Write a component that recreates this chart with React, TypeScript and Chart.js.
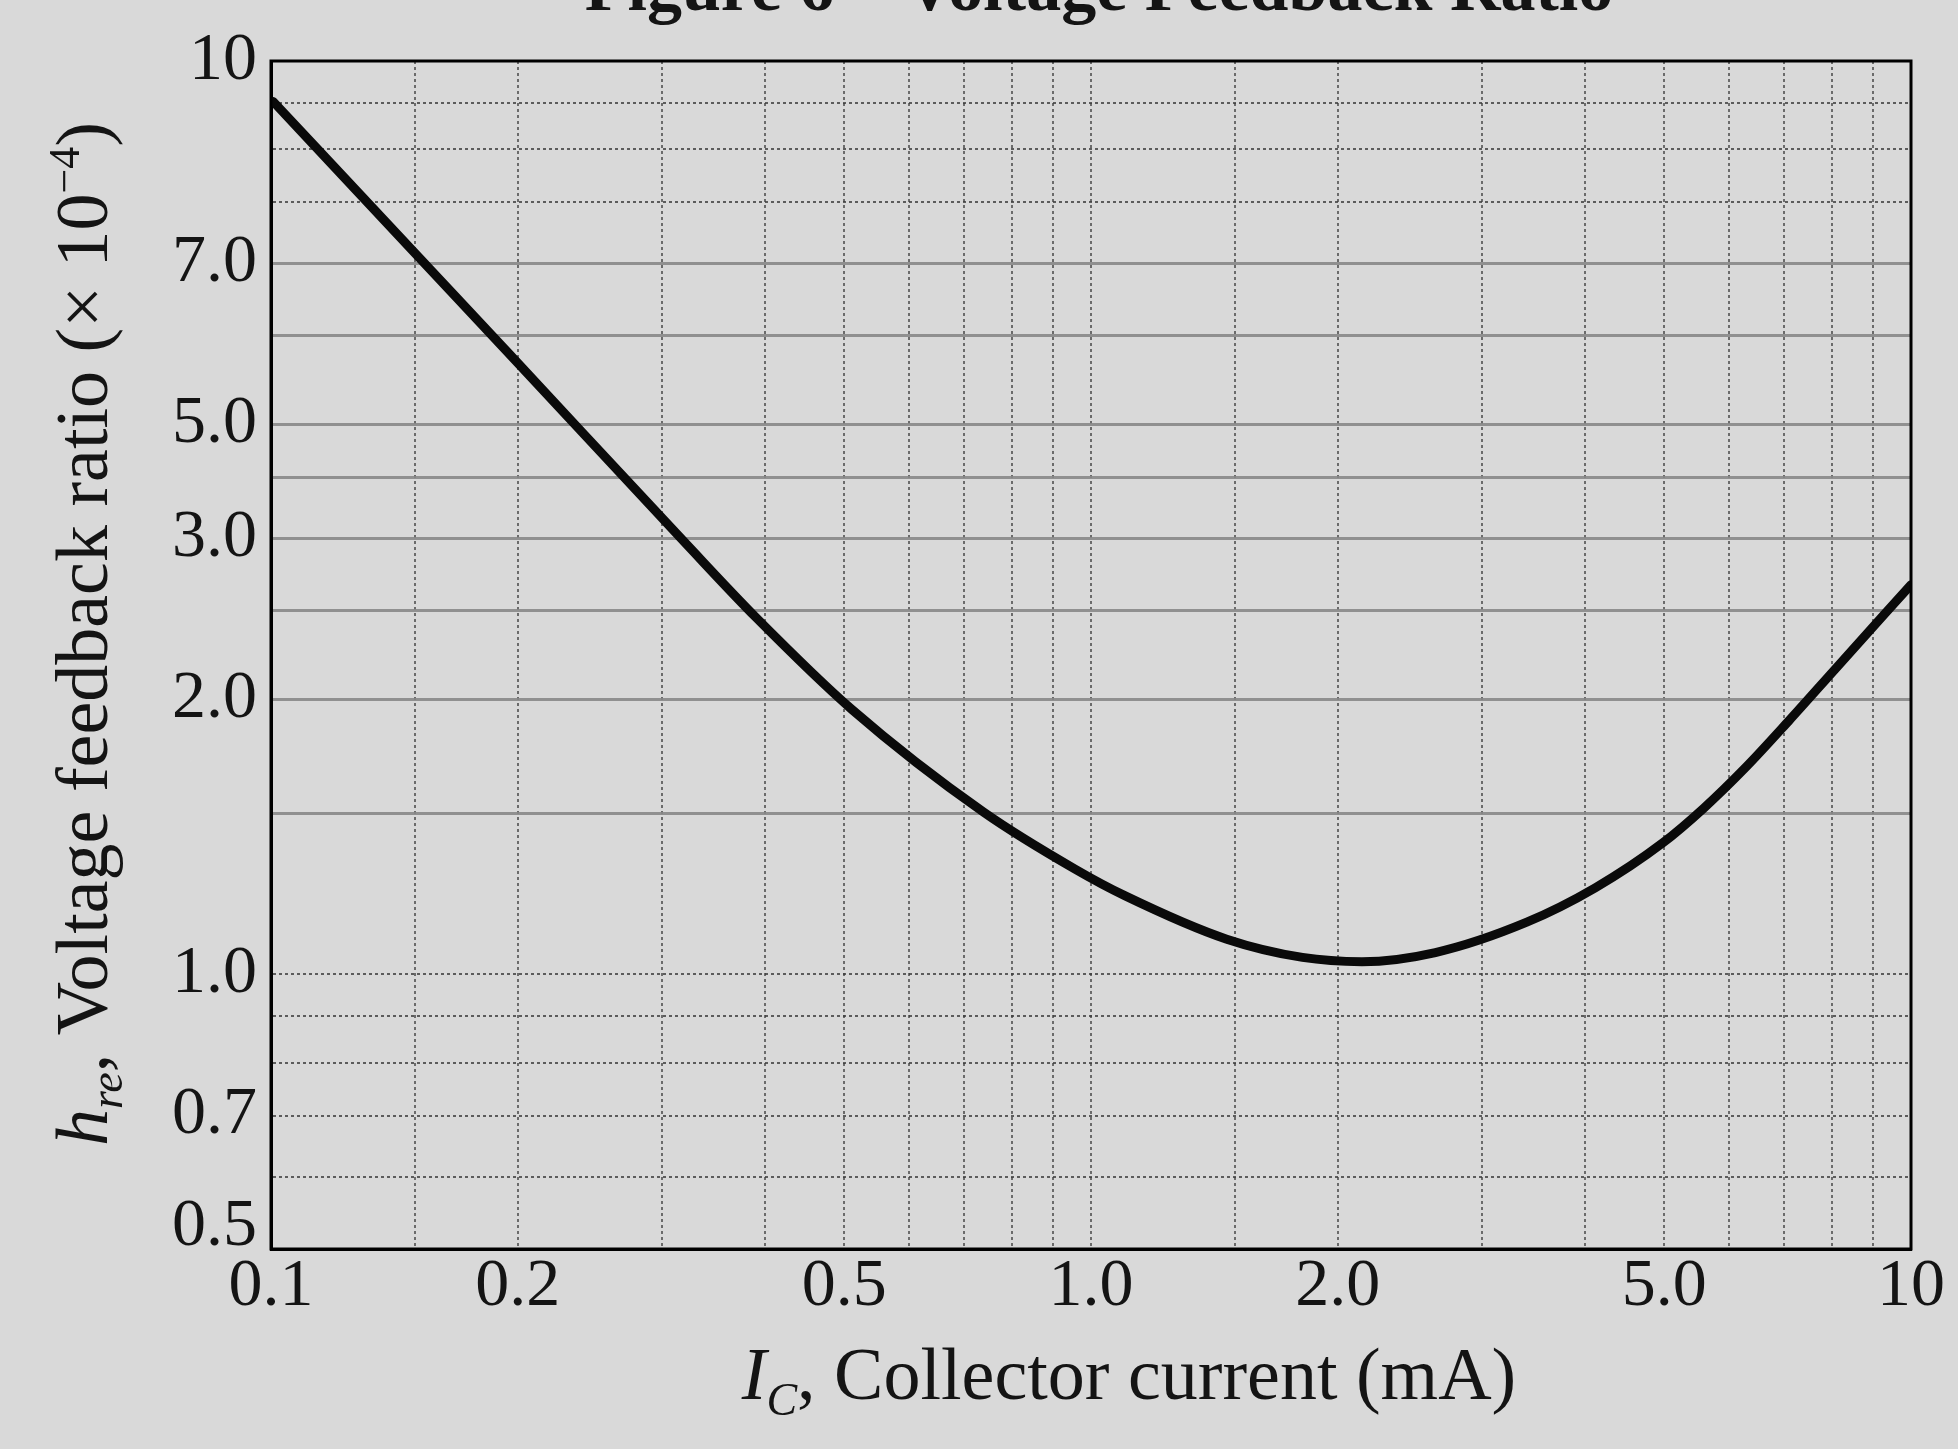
import { useEffect, useRef } from 'react';
import { Chart, registerables } from 'chart.js';

Chart.register(...registerables);

// ---- data ----
const currentMA = [0.1006, 0.1506, 0.1995, 0.3196, 0.39, 0.511, 0.74, 0.955, 1.101, 1.464, 1.811, 2.14, 2.63, 3.4, 4.12, 4.98, 5.59, 6.29, 7.1, 8.08, 10];
const hreValues = [9.03, 6.13, 4.68, 2.97, 2.46, 1.949, 1.504, 1.304, 1.218, 1.092, 1.043, 1.032, 1.056, 1.14, 1.243, 1.392, 1.52, 1.685, 1.895, 2.157, 2.67];

const xGridValues = [0.1, 0.15, 0.2, 0.3, 0.4, 0.5, 0.6, 0.7, 0.8, 0.9, 1, 1.5, 2, 3, 4, 5, 6, 7, 8, 9, 10];
const xLabelValues = [0.1, 0.2, 0.5, 1, 2, 5, 10];
const xLabelTexts = ['0.1', '0.2', '0.5', '1.0', '2.0', '5.0', '10'];

const yGridValues = [0.5, 0.6, 0.7, 0.8, 0.9, 1, 1.5, 2, 2.5, 3, 3.5, 4, 5, 6, 7, 8, 9, 10];
const yLabelValues = [10, 6, 4, 3, 2, 1, 0.7, 0.5];
const yLabelTexts = ['10', '7.0', '5.0', '3.0', '2.0', '1.0', '0.7', '0.5'];

const titleText = 'Figure 6 \u2013 Voltage Feedback Ratio';

const SERIF = '"Liberation Serif", "DejaVu Serif", serif';
const INK = '#141414';

const findLabel = (vals: number[], texts: string[], v: number) => {
  const i = vals.findIndex((a) => Math.abs(a - v) < 1e-9);
  return i >= 0 ? texts[i] : '';
};

type Seg = { text: string; font: string; dy?: number };

function drawRich(ctx: CanvasRenderingContext2D, segs: Seg[], x: number, y: number) {
  let total = 0;
  for (const s of segs) {
    ctx.font = s.font;
    total += ctx.measureText(s.text).width;
  }
  let cx = x - total / 2;
  for (const s of segs) {
    ctx.font = s.font;
    ctx.fillText(s.text, cx, y + (s.dy || 0));
    cx += ctx.measureText(s.text).width;
  }
}

const decorPlugin = {
  id: 'decor',
  afterDraw(chart: any) {
    const { ctx, chartArea } = chart;
    const { left, right, top, bottom } = chartArea;
    ctx.save();
    // frame
    ctx.strokeStyle = '#000';
    ctx.lineWidth = 3;
    ctx.strokeRect(left, top, right - left, bottom - top);

    ctx.fillStyle = INK;
    ctx.textBaseline = 'alphabetic';
    ctx.textAlign = 'left';

    // title (cut off at top of page)
    ctx.font = `bold 70px ${SERIF}`;
    const tw = ctx.measureText(titleText).width;
    ctx.fillText(titleText, 1099 - tw / 2, 10);

    // x axis title
    const fs = 74;
    drawRich(
      ctx,
      [
        { text: 'I', font: `italic ${fs}px ${SERIF}` },
        { text: 'C', font: `italic ${Math.round(fs * 0.62)}px ${SERIF}`, dy: fs * 0.22 },
        { text: ', Collector current (mA)', font: `${fs}px ${SERIF}` },
      ],
      (left + right) / 2 + 38,
      bottom + 150
    );

    // y axis title (rotated)
    ctx.translate(107, (top + bottom) / 2 - 21);
    ctx.rotate(-Math.PI / 2);
    drawRich(
      ctx,
      [
        { text: 'h', font: `italic ${fs}px ${SERIF}` },
        { text: 're', font: `italic ${Math.round(fs * 0.62)}px ${SERIF}`, dy: fs * 0.2 },
        { text: ', Voltage feedback ratio (\u00d7 10', font: `${fs}px ${SERIF}` },
        { text: '\u22124', font: `${Math.round(fs * 0.6)}px ${SERIF}`, dy: -fs * 0.38 },
        { text: ')', font: `${fs}px ${SERIF}` },
      ],
      0,
      0
    );
    ctx.restore();
  },
};

export default function App() {
  const ref = useRef<HTMLCanvasElement | null>(null);

  useEffect(() => {
    if (!ref.current) return;
    const tickFont = { family: SERIF, size: 68, lineHeight: 1 };
    const chart = new Chart(ref.current, {
      type: 'scatter',
      data: {
        datasets: [
          {
            data: currentMA.map((x, i) => ({ x, y: hreValues[i] })),
            showLine: true,
            borderColor: '#0a0a0a',
            borderWidth: 9,
            pointRadius: 0,
            cubicInterpolationMode: 'monotone',
            borderCapStyle: 'round',
          } as any,
        ],
      },
      options: {
        animation: false,
        responsive: false,
        maintainAspectRatio: false,
        layout: { padding: { left: 0, right: 47, top: 61, bottom: 0 } },
        plugins: {
          legend: { display: false },
          tooltip: { enabled: false },
          title: { display: false },
        },
        scales: {
          x: {
            type: 'logarithmic',
            min: 0.1,
            max: 10,
            afterBuildTicks: (s: any) => {
              s.ticks = xGridValues.map((v) => ({ value: v }));
            },
            afterFit: (s: any) => {
              s.height = 200;
            },
            ticks: {
              autoSkip: false,
              maxRotation: 0,
              minRotation: 0,
              padding: 4,
              color: INK,
              font: tickFont,
              callback: (v: any) => findLabel(xLabelValues, xLabelTexts, Number(v)),
            },
            grid: {
              drawTicks: false,
              color: 'rgba(70,70,70,0.75)',
              lineWidth: 2,
            },
            border: { display: true, color: '#000', width: 3, dash: [3, 3] },
          },
          y: {
            type: 'logarithmic',
            min: 0.5,
            max: 10,
            afterBuildTicks: (s: any) => {
              s.ticks = yGridValues.map((v) => ({ value: v }));
            },
            afterFit: (s: any) => {
              s.width = 271;
            },
            ticks: {
              autoSkip: false,
              padding: 14,
              color: INK,
              font: (c: any) =>
                c.tick && Math.abs(c.tick.value - 0.5) < 1e-9
                  ? { family: SERIF, size: 68, lineHeight: 0.65 }
                  : tickFont,
              callback: (v: any) => {
                const t = findLabel(yLabelValues, yLabelTexts, Number(v));
                return Math.abs(Number(v) - 0.5) < 1e-9 ? [t, ''] : t;
              },
            },
            grid: {
              drawTicks: false,
              color: (c: any) => {
                const v = c.tick ? c.tick.value : 1;
                return v <= 1 || v >= 7 ? 'rgba(60,60,60,0.8)' : 'rgba(135,135,135,0.9)';
              },
              lineWidth: (c: any) => {
                const v = c.tick ? c.tick.value : 1;
                return v <= 1 || v >= 7 ? 2 : 3;
              },
            },
            border: {
              display: true,
              color: '#000',
              width: 3,
              dash: (c: any) => {
                const v = c.tick ? c.tick.value : 1;
                return v <= 1 || v >= 7 ? [3, 3] : [];
              },
            },
          },
        },
      } as any,
      plugins: [decorPlugin],
    });
    return () => chart.destroy();
  }, []);

  return (
    <div
      style={{
        position: 'fixed',
        left: 0,
        top: 0,
        width: 1958,
        height: 1449,
        overflow: 'hidden',
        background: '#d9d9d9',
      }}
    >
      <canvas ref={ref} width={1958} height={1449} style={{ width: 1958, height: 1449, display: 'block' }} />
    </div>
  );
}
